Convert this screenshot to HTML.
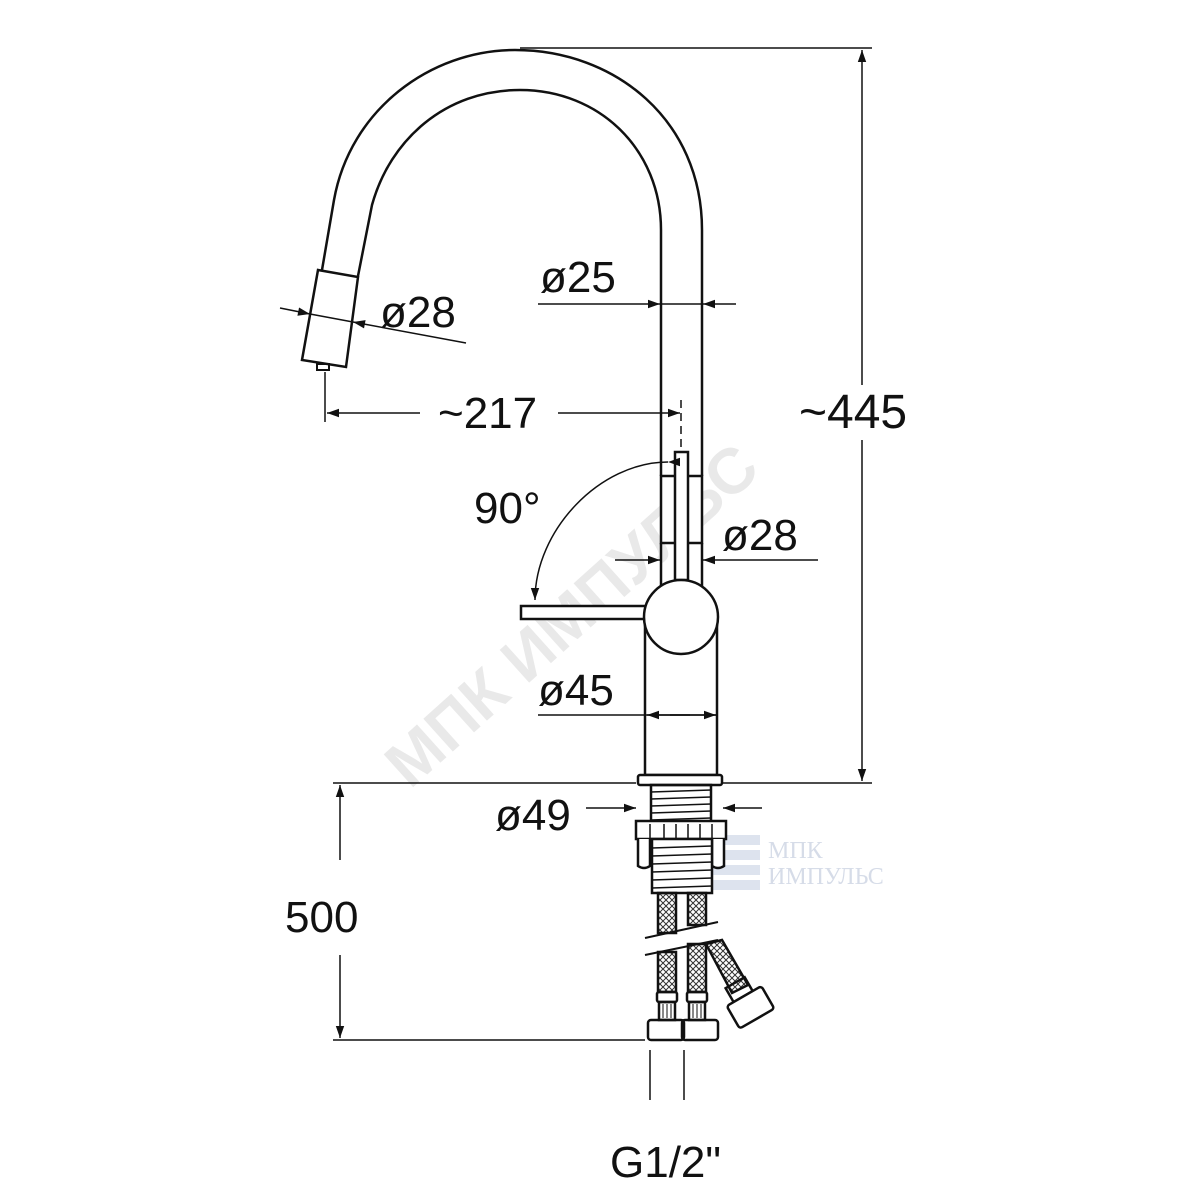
<!DOCTYPE html>
<html><head><style>body{margin:0;background:#fff}svg{display:block}text{font-family:"Liberation Sans",sans-serif;fill:#111}</style></head>
<body>
<svg width="1200" height="1200" viewBox="0 0 1200 1200" xmlns="http://www.w3.org/2000/svg">
<defs>
<marker id="a" viewBox="0 0 10 10" refX="10" refY="5" markerWidth="20" markerHeight="12" markerUnits="userSpaceOnUse" orient="auto"><path d="M0,1.5 L10,5 L0,8.5 z" fill="#111"/></marker>
<pattern id="mesh" width="6" height="6" patternUnits="userSpaceOnUse"><path d="M0,0 L6,6 M6,0 L0,6" stroke="#333" stroke-width="1"/></pattern>
</defs>
<text x="0" y="0" transform="translate(410,790) rotate(-42)" font-size="64" font-weight="bold" style="fill:#e9e9e9">МПК ИМПУЛЬС</text>
<g fill="#dde3ee"><rect x="705" y="835" width="55" height="10"/><rect x="705" y="850" width="55" height="10"/><rect x="705" y="865" width="55" height="10"/><rect x="705" y="880" width="55" height="10"/></g>
<text x="768" y="858" font-size="24" style="fill:#d6dce8;font-family:'Liberation Serif',serif">МПК</text>
<text x="768" y="884" font-size="24" style="fill:#d6dce8;font-family:'Liberation Serif',serif">ИМПУЛЬС</text>

<g fill="none" stroke="#111" stroke-width="2.5">
<path d="M322 270 L334 200 C350 110 430 50 515 50 C615 50 702 120 702 230 L702 476"/>
<path d="M358 276 L372 205 C390 140 445 90 520 90 C600 90 661 150 661 230 L661 476"/>
<path d="M318 270 L358 277 L346 367 L302 360 Z" fill="#fff"/>
<rect x="317" y="364" width="12" height="6" stroke-width="2"/>
<rect x="661" y="476" width="41" height="67" fill="#fff"/>
<line x1="661" y1="543" x2="661" y2="590"/><line x1="702" y1="543" x2="702" y2="590"/>
<rect x="675" y="452" width="13" height="128" fill="#fff"/>
<rect x="521" y="606" width="126" height="13" fill="#fff"/>
<rect x="645" y="617" width="72" height="158" fill="#fff"/>
<circle cx="681" cy="617" r="37" fill="#fff"/>
<rect x="638" y="775" width="84" height="10" rx="2" fill="#fff"/>
<rect x="651" y="785" width="60" height="37"/>
<path d="M651 792 L711 790 M651 799 L711 797 M651 806 L711 804 M651 813 L711 811 M651 820 L711 818" stroke-width="1.5"/>
<rect x="636" y="821" width="90" height="18" fill="#fff"/>
<path d="M650 824 V838 M664 824 V838 M676 824 V838 M688 824 V838 M700 824 V838 M712 824 V838" stroke-width="1.5"/>
<path d="M638 839 V866 Q644 870 650 866 V839 M712 839 V866 Q718 870 724 866 V839" fill="#fff"/>
<rect x="652" y="839" width="60" height="54" fill="#fff"/>
<path d="M652 848 L712 846 M652 856 L712 854 M652 864 L712 862 M652 872 L712 870 M652 880 L712 878 M652 888 L712 886" stroke-width="1.5"/>
<rect x="658" y="893" width="18" height="40" fill="url(#mesh)"/>
<rect x="688" y="893" width="18" height="32" fill="url(#mesh)"/>
<rect x="658" y="952" width="18" height="40" fill="url(#mesh)"/>
<rect x="688" y="944" width="18" height="48" fill="url(#mesh)"/>
<path d="M706 944 L722 940 L748 985 L732 993 Z" fill="url(#mesh)"/>
<path d="M645 938 L718 922 M645 955 L718 940" stroke-width="2"/>
<rect x="657" y="992" width="20" height="10" rx="2"/><rect x="687" y="992" width="20" height="10" rx="2"/>
<rect x="659" y="1002" width="16" height="18"/><rect x="689" y="1002" width="16" height="18"/>
<path d="M663 1004 V1018 M667 1004 V1018 M671 1004 V1018 M693 1004 V1018 M697 1004 V1018 M701 1004 V1018" stroke-width="1"/>
<rect x="648" y="1020" width="36" height="20" rx="3"/><rect x="682" y="1020" width="36" height="20" rx="3"/>
<g transform="translate(748,1003) rotate(-30)"><rect x="-12" y="-24" width="22" height="16"/><rect x="-20" y="-8" width="40" height="26" rx="3" fill="#fff"/></g>
</g>

<g stroke="#111" stroke-width="1.5" fill="none">
<line x1="520" y1="48" x2="872" y2="48"/><line x1="722" y1="783" x2="872" y2="783"/>
<line x1="862" y1="385" x2="862" y2="50" marker-end="url(#a)"/><line x1="862" y1="440" x2="862" y2="781" marker-end="url(#a)"/>
<line x1="325" y1="372" x2="325" y2="422"/>
<line x1="420" y1="413" x2="327" y2="413" marker-end="url(#a)"/>
<line x1="558" y1="413" x2="680" y2="413" marker-end="url(#a)"/>
<line x1="681" y1="400" x2="681" y2="452" stroke-dasharray="8,5"/>
<line x1="538" y1="304" x2="660" y2="304" marker-end="url(#a)"/><line x1="736" y1="304" x2="703" y2="304" marker-end="url(#a)"/>
<line x1="660" y1="304" x2="703" y2="304"/>
<line x1="280" y1="308" x2="310" y2="314" marker-end="url(#a)"/><line x1="466" y1="343" x2="353" y2="322" marker-end="url(#a)"/>
<line x1="310" y1="314" x2="353" y2="322"/>
<line x1="615" y1="560" x2="660" y2="560" marker-end="url(#a)"/><line x1="818" y1="560" x2="703" y2="560" marker-end="url(#a)"/>
<path d="M668 462 C600 462 535 530 535 600" marker-start="url(#a)" marker-end="url(#a)"/>
<line x1="538" y1="715" x2="717" y2="715"/>
<line x1="690" y1="715" x2="647" y2="715" marker-end="url(#a)"/><line x1="670" y1="715" x2="716" y2="715" marker-end="url(#a)"/>
<line x1="333" y1="783" x2="636" y2="783"/>
<line x1="586" y1="808" x2="636" y2="808" marker-end="url(#a)"/><line x1="762" y1="808" x2="723" y2="808" marker-end="url(#a)"/>
<line x1="340" y1="860" x2="340" y2="785" marker-end="url(#a)"/><line x1="340" y1="955" x2="340" y2="1038" marker-end="url(#a)"/>
<line x1="333" y1="1040" x2="645" y2="1040"/>
<line x1="650" y1="1050" x2="650" y2="1100"/><line x1="684" y1="1050" x2="684" y2="1100"/>
</g>

<g font-size="44">
<text x="799" y="428" font-size="48">~445</text>
<text x="438" y="428">~217</text>
<text x="540" y="292">ø25</text>
<text x="380" y="327">ø28</text>
<text x="722" y="550">ø28</text>
<text x="474" y="523">90°</text>
<text x="538" y="705">ø45</text>
<text x="495" y="830">ø49</text>
<text x="285" y="932">500</text>
<text x="610" y="1177">G1/2"</text>
</g>
</svg>
</body></html>
